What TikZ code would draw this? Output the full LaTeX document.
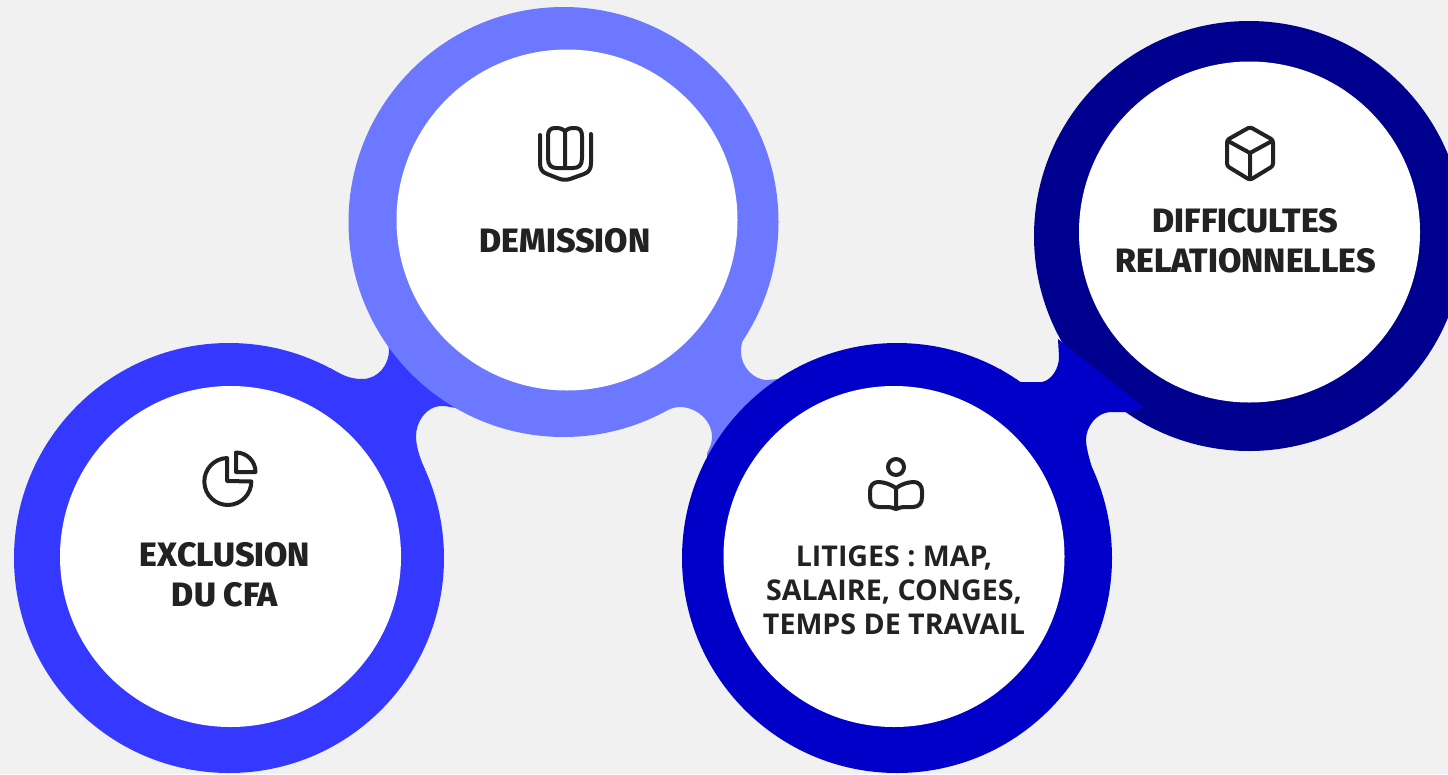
\documentclass[tikz,border=0pt]{standalone}
\usepackage{fontspec}
\newfontfamily\heavyf{Fira Sans ExtraBold}
\newfontfamily\litf{Open Sans Bold}
\definecolor{bgc}{HTML}{F1F1F1}
\definecolor{ca}{HTML}{3539FF}
\definecolor{cb}{HTML}{6B78FF}
\definecolor{cc}{HTML}{0000C8}
\definecolor{cd}{HTML}{00008F}
\definecolor{ink}{HTML}{222222}
\tikzset{
  ring/.style={circle,inner sep=0pt,minimum size=430pt},
  hole/.style={circle,fill=white,inner sep=0pt,minimum size=341pt},
  icon/.style={draw=ink,line width=4pt,line join=round,line cap=round,fill=none},
  heavy/.style={text=ink,font=\heavyf\fontsize{33.8}{40}\selectfont,align=center,inner sep=0pt},
  lit/.style={text=ink,font=\litf\fontsize{28.6}{34}\selectfont,align=center,inner sep=0pt}
}
\begin{document}
\begin{tikzpicture}[x=1pt,y=-1pt]
\path[use as bounding box,fill=bgc] (0,0) rectangle (1448,774);
\clip (0,0) rectangle (1448,774);
% bridges under the rings
\fill[ca] (330,368) .. controls (342,375) and (350,379) .. (362,379)
  .. controls (378,379) and (389,365) .. (389,350)
  .. controls (389,345) and (385,338) .. (380,330)
  -- (470,410) -- (450,407)
  .. controls (446,406) and (443,406) .. (440,406)
  .. controls (426,407) and (416,422) .. (416,436)
  .. controls (416,448) and (421,460) .. (425,470) -- (300,470) -- cycle;
\node[ring,fill=ca] (c1) at (229,558) {};
\node[ring,fill=cb] (c2) at (563.5,222) {};
\fill[cb] (753,320) -- (745,334)
  .. controls (742,340) and (741,346) .. (741,352)
  .. controls (741,367) and (754,380) .. (767,380)
  -- (790,378) -- (707,460) -- (707,453)
  .. controls (710,448) and (712,442) .. (712,437)
  .. controls (712,420) and (696,407) .. (680,407)
  .. controls (676,407) and (672,408) .. (665,411) -- (640,380) -- cycle;
\node[ring,fill=cd] (c4) at (1249,236) {};
\fill[cc] (1000,369) -- (1018,382) -- (1042,382)
  .. controls (1052,380) and (1059,368) .. (1059,357)
  -- (1058,339) -- (1144,407) -- (1128,412) -- (1110,412)
  .. controls (1096,413) and (1086,427) .. (1086,440)
  .. controls (1086,450) and (1094,476) .. (1100,490) -- (1000,490) -- cycle;
\node[ring,fill=cc] (c3) at (897,558) {};
% white holes
\node[hole] (h1) at (230.5,556.5) {};
\node[hole] (h2) at (567,220) {};
\node[hole] (h3) at (894,556.5) {};
\node[hole] (h4) at (1249.5,232) {};
% labels
\node[heavy] (t1) at (225,575) {EXCLUSION\\DU CFA};
\node[heavy] (t2) at (565,241) {DEMISSION};
\node[lit]   (t3) at (894,590) {LITIGES : MAP,\\SALAIRE, CONGES,\\TEMPS DE TRAVAIL};
\node[heavy] (t4) at (1245.5,241) {DIFFICULTES\\RELATIONNELLES};
% pie icon
\draw[icon] (227,458) arc[start angle=268,end angle=0,radius=23.5] -- (227,481) -- cycle;
\draw[icon] (236,453) -- (236,472) -- (255.5,472) arc[start angle=0,end angle=-90,radius=19.5] -- cycle;
% book icon
\draw[icon] (540,135) -- (540,163) .. controls (540,169) and (542,172) .. (547,174)
  -- (560,179) .. controls (563,180) and (567,180) .. (570,179) -- (584,174)
  .. controls (589,172) and (591,169) .. (591,163) -- (591,134);
\draw[icon] (565,131) .. controls (561,128) and (559,128) .. (555,128)
  .. controls (550,128) and (548,131) .. (548,136) -- (548,158)
  .. controls (548,165) and (551,168) .. (557,168) -- (573,168)
  .. controls (579,168) and (582,165) .. (582,158) -- (582,136)
  .. controls (582,131) and (580,128) .. (575,128)
  .. controls (571,128) and (569,128) .. (565,131) -- (565,168);
% cube icon
\draw[icon,rounded corners=2.5pt] (1250,127) -- (1273,140) -- (1273,166) -- (1250,180) -- (1227,166) -- (1227,140) -- cycle;
\draw[icon] (1228,141) -- (1250,153) -- (1272,141) (1250,153) -- (1250,179);
% reader icon
\draw[icon] (896,467) circle[radius=8];
\draw[icon] (896,488) .. controls (890,484) and (884,482) .. (878,482)
  .. controls (873,482) and (870,486) .. (870,491) -- (870,497)
  .. controls (870,503) and (873,507) .. (879,507) -- (887,507)
  .. controls (891,507) and (893,508) .. (896,509)
  .. controls (899,508) and (901,507) .. (905,507) -- (913,507)
  .. controls (919,507) and (922,503) .. (922,497) -- (922,491)
  .. controls (922,486) and (919,482) .. (914,482)
  .. controls (908,482) and (902,484) .. (896,488) -- (896,509);
\end{tikzpicture}
\end{document}
